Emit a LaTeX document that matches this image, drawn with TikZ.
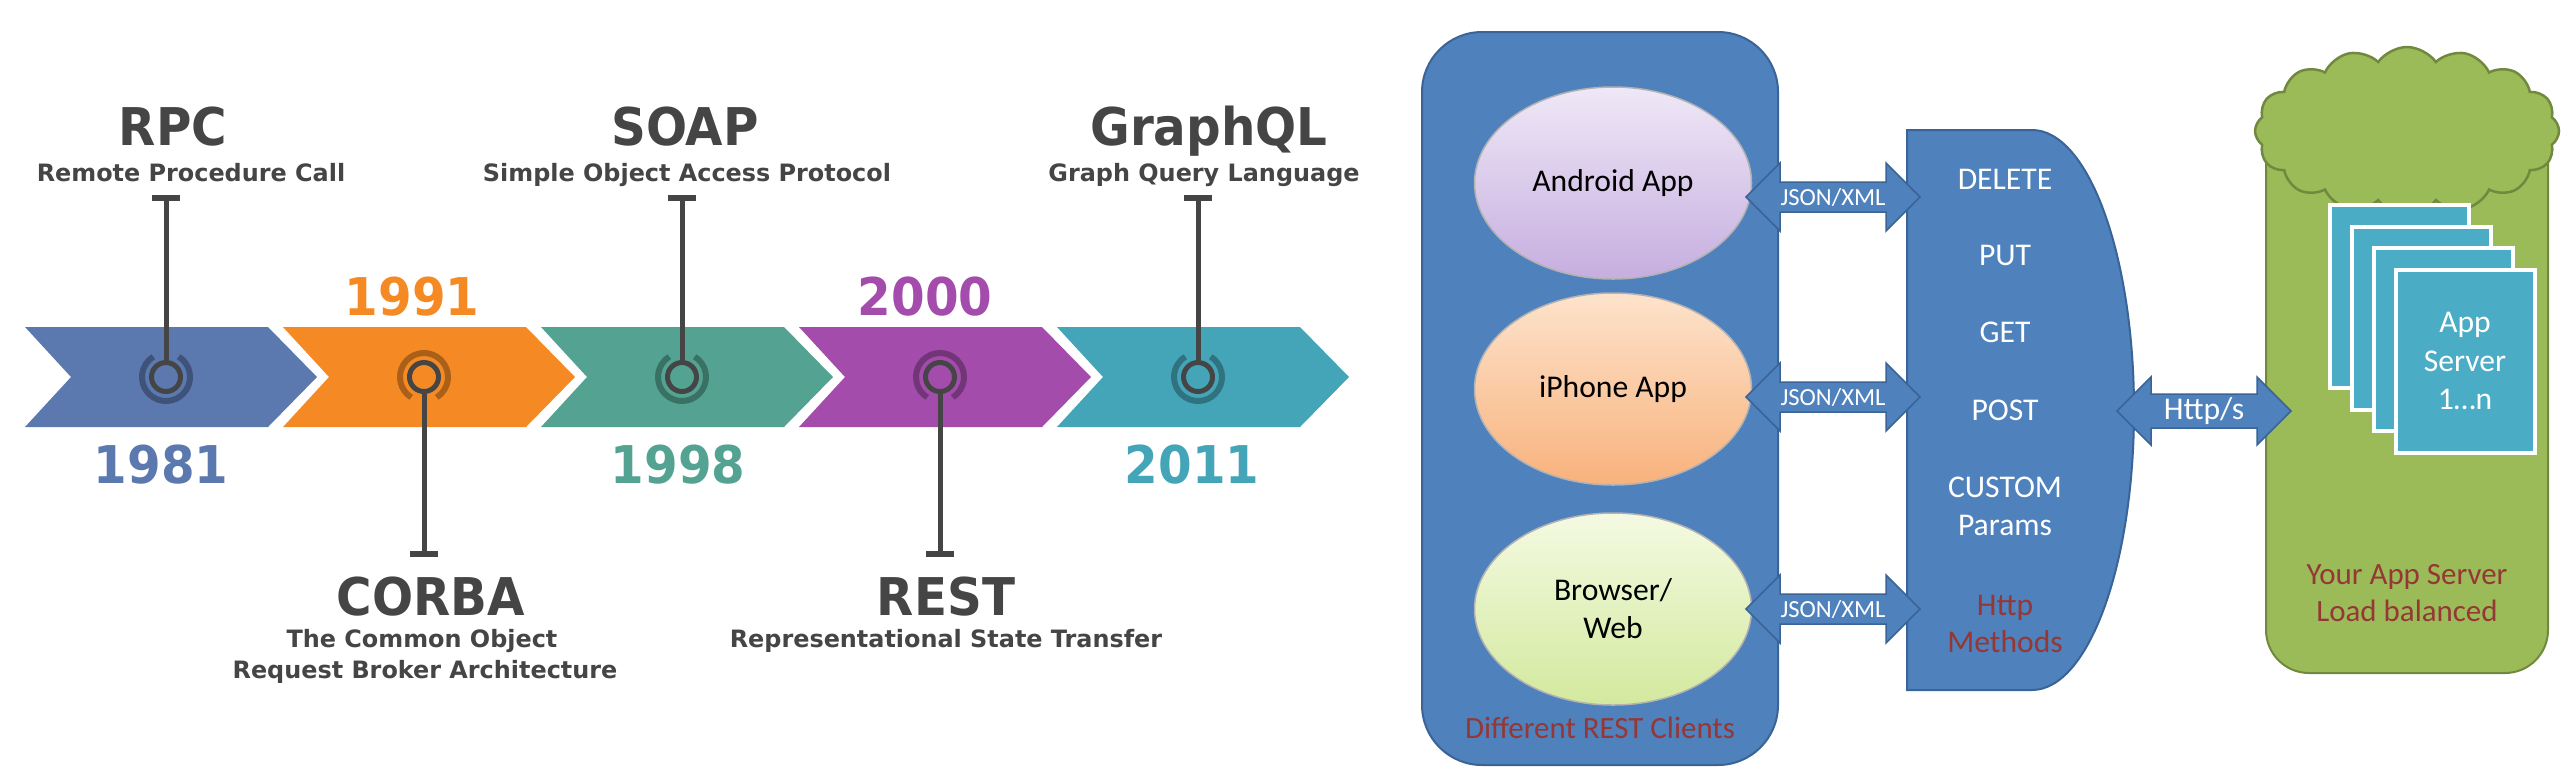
\documentclass[tikz,border=0pt]{standalone}
\usepackage{fontspec}
\usepackage{tikz}
\usetikzlibrary{arrows.meta,shapes.geometric,shapes.symbols,calc}
\newfontfamily\tlfont{DejaVu Sans}
\newfontfamily\tlbig[FakeStretch=0.93]{DejaVu Sans}
\newfontfamily\msfont{Carlito}
\definecolor{tlgray}{HTML}{454545}
\definecolor{c81}{HTML}{5B78AF}
\definecolor{c91}{HTML}{F58A24}
\definecolor{c98}{HTML}{54A392}
\definecolor{c00}{HTML}{A34CAC}
\definecolor{c11}{HTML}{45A5B8}
\definecolor{msblue}{HTML}{4F81BD}
\definecolor{msedge}{HTML}{3A6396}
\definecolor{msgreen}{HTML}{9BBB59}
\definecolor{msgreenedge}{HTML}{71893F}
\definecolor{msaqua}{HTML}{4BACC6}
\definecolor{msred}{HTML}{953735}
\definecolor{andtop}{HTML}{EFE8F7}
\definecolor{andbot}{HTML}{C6AEDF}
\definecolor{iphtop}{HTML}{FDE3CC}
\definecolor{iphbot}{HTML}{F8B27C}
\definecolor{brwtop}{HTML}{F4FAE2}
\definecolor{brwbot}{HTML}{D3E99E}

% block arrow with two heads: left tip, right tip, label, half shaft, font size
\newcommand{\dblarrow}[5]{%
  \draw[blockarrow] (#1) -- ++(34,-34) -- ++(0,34-#4) -- ($(#2)+(-34,-#4)$) -- ++(0,#4-34) -- (#2)
    -- ++(-34,34) -- ++(0,#4-34) -- ($(#1)+(34,#4)$) -- ++(0,34-#4) -- cycle;
  \path (#1) -- node[arrowtxt, font=\msfont\fontsize{#5}{#5}\selectfont] {#3} (#2);
}

\tikzset{
  tldot/.style={circle, draw=tlgray, line width=0.5mm, minimum size=2.9mm, inner sep=0pt},
  ring/.style={draw=black, draw opacity=0.3, line width=0.6mm},
  stem/.style={draw=tlgray, line width=0.5mm, -{Bar[width=2.8mm, line width=0.6mm]}},
  tltitle/.style={font=\tlbig\bfseries\fontsize{14.8}{16}\selectfont, text=tlgray, anchor=base, inner sep=0pt},
  tlsub/.style={font=\tlfont\bfseries\fontsize{6.8}{8}\selectfont, text=tlgray, anchor=base, inner sep=0pt},
  tlyear/.style={font=\tlbig\bfseries\fontsize{14.8}{16}\selectfont, text=#1, anchor=base, inner sep=0pt},
  panel/.style={fill=msblue, draw=msedge, line width=0.2mm},
  client/.style={ellipse, draw=black!30, line width=0.15mm, minimum width=27.7mm, minimum height=19.2mm,
    font=\msfont\fontsize{9}{10.8}\selectfont, align=center},
  blockarrow/.style={fill=msblue, draw=msedge, line width=0.15mm},
  arrowtxt/.style={text=white, inner sep=0pt},
  methodtxt/.style={font=\msfont\fontsize{9}{11}\selectfont, text=white, anchor=base, inner sep=0pt},
  redtxt/.style={font=\msfont\fontsize{8.8}{10.5}\selectfont, text=msred, inner sep=0pt, align=center},
  appcard/.style={fill=msaqua, draw=white, line width=0.4mm, minimum width=13.9mm, minimum height=18.3mm, inner sep=0pt}
}

\begin{document}
\begin{tikzpicture}[x=0.1mm, y=-0.1mm]
\useasboundingbox (0,0) rectangle (2564,778);

% timeline arrows
\fill[c81] (25,327) -- (268,327) -- (317,377) -- (268,427) -- (25,427) -- (71,377) -- cycle;
\fill[c91, xshift=25.8mm] (25,327) -- (268,327) -- (317,377) -- (268,427) -- (25,427) -- (71,377) -- cycle;
\fill[c98, xshift=51.6mm] (25,327) -- (268,327) -- (317,377) -- (268,427) -- (25,427) -- (71,377) -- cycle;
\fill[c00, xshift=77.4mm] (25,327) -- (268,327) -- (317,377) -- (268,427) -- (25,427) -- (71,377) -- cycle;
\fill[c11, xshift=103.2mm] (25,327) -- (268,327) -- (317,377) -- (268,427) -- (25,427) -- (71,377) -- cycle;

% dots on the timeline
\node[tldot] (c1) at (166,377) {};
\node[tldot] (c2) at (424,377) {};
\node[tldot] (c3) at (682,377) {};
\node[tldot] (c4) at (940,377) {};
\node[tldot] (c5) at (1198,377) {};
\draw[ring] (c1.center) ++(-58:24) arc[start angle=-58, end angle=238, radius=24];
\draw[ring] (c2.center) ++(122:24) arc[start angle=122, end angle=418, radius=24];
\draw[ring] (c3.center) ++(-58:24) arc[start angle=-58, end angle=238, radius=24];
\draw[ring] (c4.center) ++(122:24) arc[start angle=122, end angle=418, radius=24];
\draw[ring] (c5.center) ++(-58:24) arc[start angle=-58, end angle=238, radius=24];

% stems
\coordinate (t1) at (166,195);
\coordinate (t2) at (424,557);
\coordinate (t3) at (682,195);
\coordinate (t4) at (940,557);
\coordinate (t5) at (1198,195);
\draw[stem] (c1) -- (t1);
\draw[stem] (c2) -- (t2);
\draw[stem] (c3) -- (t3);
\draw[stem] (c4) -- (t4);
\draw[stem] (c5) -- (t5);

% labels
\node[tltitle] (rpc) at (173,145) {RPC};
\node[tlsub] (rpcsub) at (191,181) {Remote Procedure Call};
\node[tlyear=c81] (y81) at (161,483) {1981};
\node[tlyear=c91] (y91) at (412,315) {1991};
\node[tltitle] (corba) at (431,615) {CORBA};
\node[tlsub] (corbasub1) at (422,647) {The Common Object};
\node[tlsub] (corbasub2) at (425,678) {Request Broker Architecture};
\node[tltitle] (soap) at (685,145) {SOAP};
\node[tlsub] (soapsub) at (687,181) {Simple Object Access Protocol};
\node[tlyear=c98] (y98) at (678,483) {1998};
\node[tlyear=c00] (y00) at (925,315) {2000};
\node[tltitle] (rest) at (946,615) {REST};
\node[tlsub] (restsub) at (946,647) {Representational State Transfer};
\node[tltitle] (gql) at (1209,145) {GraphQL};
\node[tlsub] (gqlsub) at (1204,181) {Graph Query Language};
\node[tlyear=c11] (y11) at (1192,483) {2011};

% REST clients
\node[panel, rounded corners=6mm, minimum width=35.6mm, minimum height=73.3mm] (clients) at (1600,398.5) {};
\node[client, top color=andtop, bottom color=andbot] (android) at (1613,183) {Android App};
\node[client, top color=iphtop, bottom color=iphbot] (iphone) at (1613,389) {iPhone App};
\node[client, top color=brwtop, bottom color=brwbot] (browser) at (1613,609) {Browser/\\Web};
\node[redtxt, anchor=base] (clientlbl) at (1600,738) {Different REST Clients};

% http methods
\draw[panel] (1907,130) -- (2032,130) arc[start angle=-90, end angle=90, x radius=102, y radius=280] -- (1907,690) -- cycle;
\node[methodtxt] (mdel) at (2005,189) {DELETE};
\node[methodtxt] (mput) at (2005,265) {PUT};
\node[methodtxt] (mget) at (2005,342) {GET};
\node[methodtxt] (mpost) at (2005,420) {POST};
\node[methodtxt] (mcust) at (2005,497) {CUSTOM};
\node[methodtxt] (mpar) at (2005,535) {Params};
\node[methodtxt, text=msred] (mhttp) at (2005,615) {Http};
\node[methodtxt, text=msred] (mmeth) at (2005,652) {Methods};

% app server
\node[draw=msgreenedge, fill=msgreen, line width=0.2mm, rounded corners=4.3mm, minimum width=28.2mm, minimum height=57.3mm] (server) at (2407,386.5) {};
\node[cloud, cloud puffs=16, cloud puff arc=110, cloud ignores aspect, fill=msgreen, draw=msgreenedge, line width=0.25mm,
  minimum width=30.4mm, minimum height=16.8mm, inner sep=0pt] (cloud) at (2407,131) {};
\node[appcard] (card1) at (2399,296.5) {};
\node[appcard] (card2) at (2421,318) {};
\node[appcard] (card3) at (2443,339.5) {};
\node[appcard, font=\msfont\fontsize{9}{11}\selectfont, text=white, align=center] (card4) at (2465,361) {App\\Server\\1…n};
\node[redtxt] (serverlbl) at (2407,593) {Your App Server\\Load balanced};

% connectors
\coordinate (j1a) at (1746,197);
\coordinate (j1b) at (1920,197);
\coordinate (j2a) at (1746,397);
\coordinate (j2b) at (1920,397);
\coordinate (j3a) at (1746,609);
\coordinate (j3b) at (1920,609);
\coordinate (ha) at (2117,411);
\coordinate (hb) at (2291,411);
\dblarrow{j1a}{j1b}{JSON/XML}{15}{7}
\dblarrow{j2a}{j2b}{JSON/XML}{15}{7}
\dblarrow{j3a}{j3b}{JSON/XML}{15}{7}
\dblarrow{ha}{hb}{Http/s}{17}{9}
\end{tikzpicture}
\end{document}
